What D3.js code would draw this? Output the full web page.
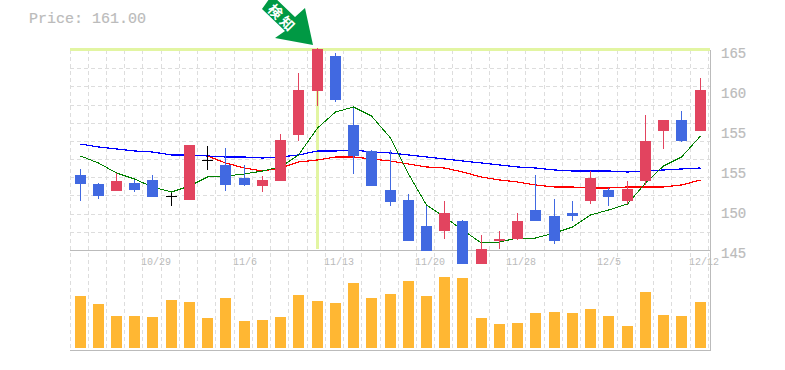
<!DOCTYPE html>
<html><head><meta charset="utf-8">
<script src="https://cdn.jsdelivr.net/npm/d3@7/dist/d3.min.js"></script>
<style>html,body{margin:0;padding:0;background:#fff}svg{display:block}text{font-family:"Liberation Mono",monospace}</style>
</head><body><div id="c"></div>
<script>
const priceLabel = "Price: 161.00";
const markerLabel = "検知";
const markerIndex = 13;
const open  = [152.5,151.6,150.9,151.7,152.0,150.4,150.0,154.0,153.5,152.2,151.4,151.9,156.5,160.9,164.4,157.5,154.9,151.0,150.0,147.4,146.9,147.9,143.6,145.9,146.1,149.0,148.4,148.7,149.9,151.0,149.9,151.9,156.9,158.0,156.9];
const close = [151.6,150.4,151.9,151.0,150.3,150.4,155.5,154.0,151.5,151.5,152.0,156.0,161.0,165.1,160.0,154.4,151.4,149.8,145.9,144.9,148.7,143.6,145.1,146.1,147.9,147.9,145.9,148.4,152.2,150.3,151.1,155.9,158.0,155.9,161.0];
const high  = [153.1,151.7,152.7,152.0,152.5,150.7,155.5,155.4,155.2,153.5,152.4,156.6,162.7,165.2,164.7,159.2,155.0,155.0,150.6,149.4,149.9,148.0,146.5,146.9,148.7,152.5,150.1,149.9,152.9,151.2,151.9,158.5,158.0,158.9,162.2];
const low   = [149.9,150.1,150.9,150.8,150.3,149.4,150.0,153.0,150.9,151.4,150.8,151.9,155.9,159.4,159.8,152.6,151.4,149.4,145.9,144.9,146.1,143.6,143.6,145.1,146.0,147.9,145.6,147.9,149.6,149.4,149.6,151.5,155.1,155.8,156.9];
const volume = [52,44,32,32,31,48,46,30,50,27,28,31,53,47,45,65,50,54,67,52,71,70,30,24,25,35,36,35,39,32,22,56,33,32,46];
const maShort = [154.4,153.7,152.7,152.1,151.3,150.8,151.4,152.3,152.4,152.6,152.9,153.3,154.5,157.2,158.8,159.3,158.4,156.2,152.6,149.5,148.3,147.0,145.7,145.8,146.2,146.2,146.7,147.3,148.5,149.0,149.6,151.7,153.4,154.3,156.4];
const maLong = [155.6,155.3,155.1,154.9,154.8,154.5,154.5,154.4,154.3,154.3,154.2,154.3,154.5,154.9,154.9,155.0,154.8,154.7,154.5,154.3,154.1,153.9,153.7,153.5,153.3,153.2,153.0,152.9,152.9,152.9,152.8,152.9,153.0,153.1,153.2];
const maMidStart = 7;
const maMid = [154.4,153.7,153.2,152.9,153.2,153.8,154.0,154.3,154.3,154.1,153.9,153.6,153.3,153.2,152.8,152.3,152.0,151.8,151.5,151.3,151.3,151.2,151.2,151.3,151.3,151.3,151.5,152.0];
const yTickValues = [165,161,157,153,149,145];
const yTickLabels = ["165","160","155","155","150","145"];
const xTickIndex = [4,9,14,19,24,29,34];
const xTickLabels = ["10/29","11/6","11/13","11/20","11/28","12/5","12/12"];

const W=785,H=370;
const svg=d3.select("#c").append("svg").attr("width",W).attr("height",H);
const xs=d3.scaleLinear().domain([0,34]).range([80,700]);
const cx=i=>Math.floor(xs(i))+0.5;
const y=d3.scaleLinear().domain([165,145]).range([50,250]);
const yv=d3.scaleLinear().domain([0,100]).range([348,248]);
const L=70,R=710,GRID="#ddd",AX="#bbb",RED="#e2445f",BLUE="#4169e1",ORANGE="#ffb733",HL="#e2f5a2";

// grid
const g=svg.append("g").attr("shape-rendering","crispEdges");
const hRows=d3.range(0,12).map(k=>Math.round(250-k*200/11));
g.selectAll(".h").data(hRows).join("line").attr("x1",L).attr("x2",R)
 .attr("y1",d=>d+.5).attr("y2",d=>d+.5).attr("stroke",GRID).attr("stroke-dasharray","4,3");
g.selectAll(".v").data(d3.range(0,36)).join("line")
 .attr("x1",i=>Math.floor(xs(i))-9.5).attr("x2",i=>Math.floor(xs(i))-9.5).attr("y1",50).attr("y2",350)
 .attr("stroke",GRID).attr("stroke-dasharray","4,3");

// highlight
g.append("rect").attr("x",L).attr("y",48).attr("width",R-L).attr("height",3).attr("fill",HL);
g.append("rect").attr("x",cx(markerIndex)-1.5).attr("y",48).attr("width",3).attr("height",201).attr("fill",HL);

// axes lines
[250,350].forEach(v=>g.append("line").attr("x1",L).attr("x2",R+.5).attr("y1",v+.5).attr("y2",v+.5).attr("stroke",AX));
g.append("line").attr("x1",R+.5).attr("x2",R+.5).attr("y1",50).attr("y2",351).attr("stroke",AX);

// moving averages
const line=d3.line().x(d=>d.x).y(d=>d.y);
const toPts=(a,s=0)=>a.map((v,i)=>({x:cx(i+s),y:y(v)}));
[[maLong,0,"#0000ff",1.2],[maMid,maMidStart,"#ff0000",1.2],[maShort,0,"#008000",1]].forEach(([a,s,c,w])=>{
  svg.append("path").attr("d",line(toPts(a,s))).attr("fill","none").attr("stroke",c).attr("stroke-width",w).attr("shape-rendering","crispEdges");
});

// volume
const bars=svg.append("g").attr("shape-rendering","crispEdges");
bars.selectAll("rect").data(volume).join("rect")
 .attr("x",(d,i)=>cx(i)-5.5).attr("width",11).attr("y",d=>yv(d)).attr("height",d=>yv(0)-yv(d)).attr("fill",ORANGE);

// candles
const colorOf=i=>close[i]>open[i]?RED:close[i]<open[i]?BLUE:"#000";
const cand=svg.append("g").attr("shape-rendering","crispEdges");
d3.range(open.length).forEach(i=>{
  const c=colorOf(i),xc=cx(i);
  cand.append("line").attr("x1",xc).attr("x2",xc).attr("y1",y(high[i])).attr("y2",y(low[i])).attr("stroke",c);
  if(open[i]===close[i]){
    cand.append("line").attr("x1",xc-5.5).attr("x2",xc+5.5).attr("y1",y(open[i])+.5).attr("y2",y(open[i])+.5).attr("stroke",c);
  } else {
    const t=y(Math.max(open[i],close[i])),b=y(Math.min(open[i],close[i]));
    cand.append("rect").attr("x",xc-5.5).attr("width",11).attr("y",t).attr("height",b-t).attr("fill",c);
  }
});

// axis text
svg.selectAll(".yt").data(yTickValues).join("text").attr("x",721).attr("y",d=>y(d)+8)
 .attr("font-size",14).attr("fill",AX).attr("stroke",AX).attr("stroke-width",.2).text((d,i)=>yTickLabels[i]);
svg.selectAll(".xt").data(xTickIndex).join("text").attr("x",d=>Math.floor(xs(d))-11).attr("y",265)
 .attr("font-size",10).attr("fill",AX).text((d,i)=>xTickLabels[i]);
svg.append("text").attr("x",29).attr("y",23).attr("font-size",15).attr("fill",AX).attr("stroke",AX).attr("stroke-width",.2).text(priceLabel);

// marker arrow
const tip=[cx(markerIndex)-4.5,45];
const arrow=[[0,0],[-8,-37],[-18,-28],[-41,-50],[-51,-36],[-28,-14],[-38,-7]];
svg.append("polygon").attr("points",arrow.map(p=>[tip[0]+p[0],tip[1]+p[1]].join(",")).join(" ")).attr("fill","#009944");
svg.append("text").attr("transform","translate(283,18) rotate(45)").attr("text-anchor","middle").attr("dominant-baseline","central")
 .attr("font-size",14).attr("font-weight",700).attr("letter-spacing",3).attr("fill","#fff")
 .style("font-family",'"Noto Sans CJK JP"').text(markerLabel);
</script></body></html>
